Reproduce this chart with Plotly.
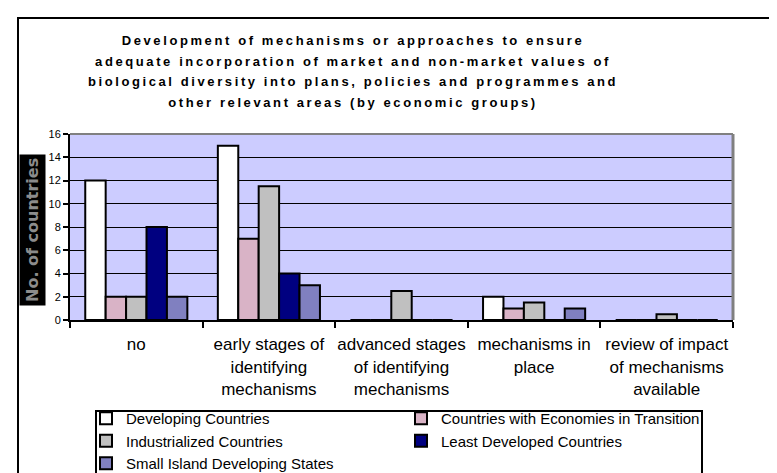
import plotly.graph_objects as go

categories = [
    "no",
    "early stages of<br>identifying<br>mechanisms",
    "advanced stages<br>of identifying<br>mechanisms",
    "mechanisms in<br>place",
    "review of impact<br>of mechanisms<br>available",
]
series_names = [
    "Developing Countries",
    "Countries with Economies in Transition",
    "Industrialized Countries",
    "Least Developed Countries",
    "Small Island Developing States",
]
developing = [12, 15, 0, 2, 0]
transition = [2, 7, 0, 1, 0]
industrialized = [2, 11.5, 2.5, 1.5, 0.5]
least_developed = [8, 4, 0, 0, 0]
small_island = [2, 3, 0, 1, 0]
y_ticks = [0, 2, 4, 6, 8, 10, 12, 14, 16]
title_text = ("Development of mechanisms or approaches to ensure<br>"
              "adequate incorporation of market and non-market values of<br>"
              "biological diversity into plans, policies and programmes and<br>"
              "other relevant areas (by economic groups)")

series_values = [developing, transition, industrialized, least_developed, small_island]
colors = ["#FFFFFF", "#D9B3C6", "#C0C0C0", "#000080", "#8080C0"]

W, H = 777, 473
L, R, T, B = 62, 725, 126, 312


def px_x(p):
    return (p - L) / (R - L)


def px_y(p):
    return (B - p) / (B - T)


fig = go.Figure()
for name, vals, col in zip(series_names, series_values, colors):
    fig.add_trace(go.Bar(
        x=categories, y=vals, name=name,
        marker=dict(color=col, line=dict(color="black", width=2)),
    ))

fig.update_layout(
    width=W, height=H,
    margin=dict(l=L, r=W - R, t=T, b=H - B, autoexpand=False),
    paper_bgcolor="white",
    plot_bgcolor="#CCCCFF",
    barmode="group",
    bargap=0.23,
    bargroupgap=0,
    font=dict(family="Liberation Sans, Arial, sans-serif", color="black"),
    title=dict(
        text=title_text,
        font=dict(family="Liberation Sans, Arial, sans-serif", size=13, color="black", weight="bold"),
        x=345 / W, xanchor="center", xref="container",
        y=1 - 37 / H, yanchor="middle", yref="container",
    ),
    legend=dict(
        orientation="h",
        x=px_x(78), xanchor="left",
        y=px_y(394), yanchor="top",
        entrywidth=270, entrywidthmode="pixels",
        font=dict(family="Liberation Sans, Arial, sans-serif", size=15, color="black"),
        bgcolor="rgba(0,0,0,0)",
        borderwidth=0,
        traceorder="normal",
        itemclick=False,
    ),
    showlegend=True,
)

fig.update_xaxes(
    type="category",
    showline=True, linecolor="black", linewidth=2,
    ticks="outside", tickson="boundaries", ticklen=6, tickwidth=2, tickcolor="black",
    tickfont=dict(family="Liberation Sans, Arial, sans-serif", size=17, color="black"),
    tickangle=0,
    ticklabelstandoff=8,
    showgrid=False,
)
fig.update_yaxes(
    range=[0, 16], tickvals=y_ticks,
    showline=True, linecolor="black", linewidth=2,
    ticks="outside", ticklen=5, tickwidth=2, tickcolor="black",
    tickfont=dict(family="Liberation Sans, Arial, sans-serif", size=11, color="black"),
    showgrid=True, gridcolor="black", gridwidth=1,
    zeroline=False,
)

# plot-area frame (top and right in grey)
fig.add_shape(type="line", xref="paper", yref="paper", x0=0, x1=1, y0=1, y1=1,
              line=dict(color="#808080", width=2))
fig.add_shape(type="line", xref="paper", yref="paper", x0=1, x1=1, y0=0, y1=1,
              line=dict(color="#808080", width=3))
# legend frame
fig.add_shape(type="rect", xref="paper", yref="paper",
              x0=px_x(88), x1=px_x(694), y0=px_y(470), y1=px_y(403),
              line=dict(color="black", width=2))
# chart-area frame
fig.add_shape(type="rect", xref="paper", yref="paper",
              x0=px_x(10), x1=px_x(775), y0=px_y(490), y1=px_y(10),
              line=dict(color="black", width=2))

# y-axis title
fig.add_annotation(
    text="No. of countries", textangle=-90,
    xref="paper", yref="paper", x=px_x(24), y=px_y(222),
    xanchor="center", yanchor="middle", showarrow=False,
    font=dict(family="DejaVu Sans", size=16, color="#8C8C8C", weight="bold"),
    bgcolor="black", borderpad=3,
)

# the original title is set with wide letter spacing and a looser line pitch
post = """
var gd = document.getElementById('{plot_id}');
gd.querySelectorAll('text.gtitle').forEach(function(t) {
    t.style.letterSpacing = '2.6px';
    t.querySelectorAll('tspan.line').forEach(function(s, i) {
        s.setAttribute('dy', (i * 20.5) + 'px');
    });
});
"""

fig.write_html("out.html", post_script=post)
